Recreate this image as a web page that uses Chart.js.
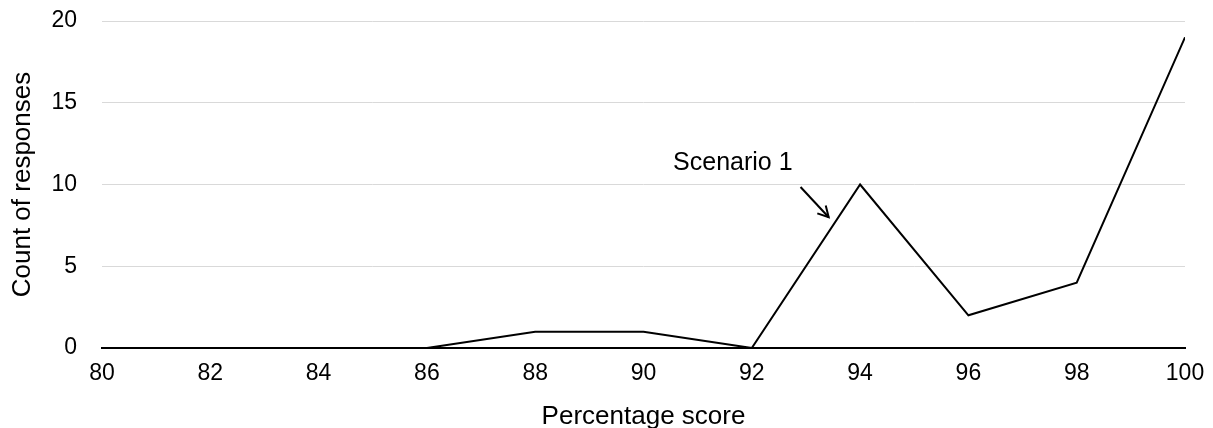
<!DOCTYPE html>
<html>
<head>
<meta charset="utf-8">
<title>Percentage score</title>
<script src="https://cdn.jsdelivr.net/npm/chart.js@4.4.0/dist/chart.umd.min.js"></script>
<style>
  html, body { margin: 0; padding: 0; background: #ffffff; }
  #wrap { width: 1213px; height: 428px; }
</style>
</head>
<body>
<div id="wrap"><canvas id="chart" width="1213" height="428"></canvas></div>
<script>
// data
var scores = [80, 82, 84, 86, 88, 90, 92, 94, 96, 98, 100];
var counts = [0, 0, 0, 0, 1, 1, 0, 10, 2, 4, 19];
var yTicks = [0, 5, 10, 15, 20];

var FONT = "'Liberation Sans', Arial, Helvetica, sans-serif";

// "Scenario 1" label with arrow pointing at the 94 peak
var calloutPlugin = {
  id: 'callout',
  afterDatasetsDraw: function (chart) {
    var ctx = chart.ctx;
    var xs = chart.scales.x, ys = chart.scales.y;
    var x0 = xs.getPixelForValue(92.9), y0 = ys.getPixelForValue(9.85);
    var x1 = xs.getPixelForValue(93.42), y1 = ys.getPixelForValue(8.0);
    ctx.save();
    ctx.strokeStyle = '#000';
    ctx.lineWidth = 2;
    ctx.beginPath();
    ctx.moveTo(x0, y0);
    ctx.lineTo(x1, y1);
    ctx.stroke();
    var ang = Math.atan2(y1 - y0, x1 - x0);
    var h = 12;
    ctx.beginPath();
    ctx.moveTo(x1 - h * Math.cos(ang - 0.5), y1 - h * Math.sin(ang - 0.5));
    ctx.lineTo(x1, y1);
    ctx.lineTo(x1 - h * Math.cos(ang + 0.5), y1 - h * Math.sin(ang + 0.5));
    ctx.stroke();
    ctx.fillStyle = '#000';
    ctx.font = '25px ' + FONT;
    ctx.textAlign = 'center';
    ctx.textBaseline = 'middle';
    ctx.fillText('Scenario 1', xs.getPixelForValue(91.65), ys.getPixelForValue(11.3));
    ctx.restore();
  }
};

new Chart(document.getElementById('chart'), {
  type: 'line',
  data: {
    datasets: [{
      data: scores.map(function (s, i) { return { x: s, y: counts[i] }; }),
      borderColor: '#000000',
      borderWidth: 2,
      pointRadius: 0,
      tension: 0,
      fill: false
    }]
  },
  options: {
    responsive: false,
    animation: false,
    events: [],
    layout: { padding: { top: 21, right: 28, left: 0, bottom: 0 } },
    plugins: { legend: { display: false }, tooltip: { enabled: false } },
    scales: {
      x: {
        type: 'linear',
        min: 80,
        max: 100,
        afterFit: function (axis) {
          axis.height = 80;
          axis.paddingLeft = 0;
          axis.paddingRight = 0;
        },
        grid: { display: false, drawTicks: false },
        border: { display: true, color: '#000000', width: 2 },
        ticks: {
          stepSize: 2,
          autoSkip: false,
          maxRotation: 0,
          padding: 12,
          color: '#000000',
          font: { family: FONT, size: 23 }
        },
        title: {
          display: true,
          text: 'Percentage score',
          color: '#000000',
          font: { family: FONT, size: 26, lineHeight: 0.85 },
          padding: { top: 0, bottom: 0 }
        }
      },
      y: {
        min: 0,
        max: 20,
        afterBuildTicks: function (axis) {
          axis.ticks = yTicks.map(function (v) { return { value: v }; });
        },
        afterFit: function (axis) {
          axis.width = 102;
          axis.paddingTop = 0;
          axis.paddingBottom = 0;
        },
        grid: { color: '#d9d9d9', lineWidth: 1, drawTicks: false },
        border: { display: false },
        ticks: {
          padding: 25,
          color: '#000000',
          font: { family: FONT, size: 23 }
        },
        title: {
          display: true,
          text: 'Count of responses',
          color: '#000000',
          font: { family: FONT, size: 26 },
          padding: { top: 7, bottom: 0 }
        }
      }
    }
  },
  plugins: [calloutPlugin]
});
</script>
</body>
</html>
